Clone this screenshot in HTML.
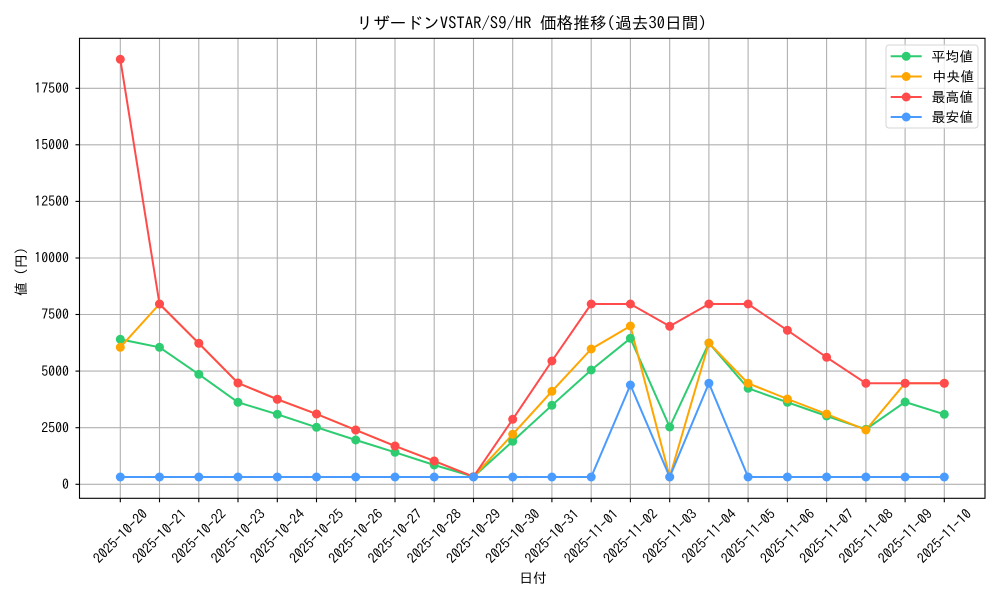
<!DOCTYPE html>
<html><head><meta charset="utf-8"><style>
html,body{margin:0;padding:0;background:#fff;}
svg{display:block;}
text{font-family:"IPAGothic","Liberation Sans","Noto Sans CJK JP",sans-serif;fill:#000;}
</style></head><body>
<svg width="1000" height="600" viewBox="0 0 1000 600" xmlns="http://www.w3.org/2000/svg">
<rect x="0" y="0" width="1000" height="600" fill="#fff"/>
<text x="531.5" y="29" font-size="16.7" text-anchor="middle">リザードンVSTAR/S9/HR 価格推移(過去30日間)</text>
<g stroke="#b0b0b0" stroke-width="1.1">
<line x1="120.3" y1="38.3" x2="120.3" y2="498.3"/><line x1="159.5" y1="38.3" x2="159.5" y2="498.3"/><line x1="198.8" y1="38.3" x2="198.8" y2="498.3"/><line x1="238.0" y1="38.3" x2="238.0" y2="498.3"/><line x1="277.3" y1="38.3" x2="277.3" y2="498.3"/><line x1="316.5" y1="38.3" x2="316.5" y2="498.3"/><line x1="355.7" y1="38.3" x2="355.7" y2="498.3"/><line x1="395.0" y1="38.3" x2="395.0" y2="498.3"/><line x1="434.2" y1="38.3" x2="434.2" y2="498.3"/><line x1="473.5" y1="38.3" x2="473.5" y2="498.3"/><line x1="512.7" y1="38.3" x2="512.7" y2="498.3"/><line x1="551.9" y1="38.3" x2="551.9" y2="498.3"/><line x1="591.2" y1="38.3" x2="591.2" y2="498.3"/><line x1="630.4" y1="38.3" x2="630.4" y2="498.3"/><line x1="669.7" y1="38.3" x2="669.7" y2="498.3"/><line x1="708.9" y1="38.3" x2="708.9" y2="498.3"/><line x1="748.1" y1="38.3" x2="748.1" y2="498.3"/><line x1="787.4" y1="38.3" x2="787.4" y2="498.3"/><line x1="826.6" y1="38.3" x2="826.6" y2="498.3"/><line x1="865.9" y1="38.3" x2="865.9" y2="498.3"/><line x1="905.1" y1="38.3" x2="905.1" y2="498.3"/><line x1="944.3" y1="38.3" x2="944.3" y2="498.3"/>
<line x1="79.5" y1="484.3" x2="985" y2="484.3"/><line x1="79.5" y1="427.7" x2="985" y2="427.7"/><line x1="79.5" y1="371.1" x2="985" y2="371.1"/><line x1="79.5" y1="314.5" x2="985" y2="314.5"/><line x1="79.5" y1="258.0" x2="985" y2="258.0"/><line x1="79.5" y1="201.4" x2="985" y2="201.4"/><line x1="79.5" y1="144.8" x2="985" y2="144.8"/><line x1="79.5" y1="88.3" x2="985" y2="88.3"/>
</g>
<!-- series -->
<g stroke-width="2" fill="none" stroke-linejoin="round">
<polyline stroke="#2ecc71" points="120.3,339.3 159.5,347.3 198.8,374.3 238.0,402.3 277.3,414.3 316.5,427.3 355.7,440 395.0,452.3 434.2,465 473.5,476.7 512.7,441.3 551.9,405.3 591.2,370 630.4,338.3 669.7,427 708.9,343 748.1,388.3 787.4,402.3 826.6,416 865.9,429.3 905.1,402 944.3,414.3"/>
<polyline stroke="#ffa500" points="120.3,347.3 159.5,304 198.8,343.3 238.0,383 277.3,399.3 316.5,414 355.7,430 395.0,446 434.2,461 473.5,476.7 512.7,434.3 551.9,391.3 591.2,349 630.4,326 669.7,477 708.9,343 748.1,383.3 787.4,399 826.6,414 865.9,430 905.1,383.3 944.3,383.3"/>
<polyline stroke="#ff4b4b" points="120.3,59.3 159.5,304 198.8,343.3 238.0,383 277.3,399.3 316.5,414 355.7,430 395.0,446 434.2,461 473.5,476.7 512.7,419.3 551.9,361 591.2,304 630.4,304 669.7,326.3 708.9,304 748.1,304 787.4,330.3 826.6,357.3 865.9,383.3 905.1,383.3 944.3,383.3"/>
<polyline stroke="#4a9bff" points="120.3,477 159.5,477 198.8,477 238.0,477 277.3,477 316.5,477 355.7,477 395.0,477 434.2,477 473.5,477 512.7,477 551.9,477 591.2,477 630.4,385 669.7,477 708.9,383.3 748.1,477 787.4,477 826.6,477 865.9,477 905.1,477 944.3,477"/>
</g>
<g fill="#2ecc71">
<circle cx="120.3" cy="339.3" r="4.5"/><circle cx="159.5" cy="347.3" r="4.5"/><circle cx="198.8" cy="374.3" r="4.5"/><circle cx="238.0" cy="402.3" r="4.5"/><circle cx="277.3" cy="414.3" r="4.5"/><circle cx="316.5" cy="427.3" r="4.5"/><circle cx="355.7" cy="440" r="4.5"/><circle cx="395.0" cy="452.3" r="4.5"/><circle cx="434.2" cy="465" r="4.5"/><circle cx="473.5" cy="476.7" r="4.5"/><circle cx="512.7" cy="441.3" r="4.5"/><circle cx="551.9" cy="405.3" r="4.5"/><circle cx="591.2" cy="370" r="4.5"/><circle cx="630.4" cy="338.3" r="4.5"/><circle cx="669.7" cy="427" r="4.5"/><circle cx="708.9" cy="343" r="4.5"/><circle cx="748.1" cy="388.3" r="4.5"/><circle cx="787.4" cy="402.3" r="4.5"/><circle cx="826.6" cy="416" r="4.5"/><circle cx="865.9" cy="429.3" r="4.5"/><circle cx="905.1" cy="402" r="4.5"/><circle cx="944.3" cy="414.3" r="4.5"/>
</g>
<g fill="#ffa500">
<circle cx="120.3" cy="347.3" r="4.5"/><circle cx="159.5" cy="304" r="4.5"/><circle cx="198.8" cy="343.3" r="4.5"/><circle cx="238.0" cy="383" r="4.5"/><circle cx="277.3" cy="399.3" r="4.5"/><circle cx="316.5" cy="414" r="4.5"/><circle cx="355.7" cy="430" r="4.5"/><circle cx="395.0" cy="446" r="4.5"/><circle cx="434.2" cy="461" r="4.5"/><circle cx="473.5" cy="476.7" r="4.5"/><circle cx="512.7" cy="434.3" r="4.5"/><circle cx="551.9" cy="391.3" r="4.5"/><circle cx="591.2" cy="349" r="4.5"/><circle cx="630.4" cy="326" r="4.5"/><circle cx="669.7" cy="477" r="4.5"/><circle cx="708.9" cy="343" r="4.5"/><circle cx="748.1" cy="383.3" r="4.5"/><circle cx="787.4" cy="399" r="4.5"/><circle cx="826.6" cy="414" r="4.5"/><circle cx="865.9" cy="430" r="4.5"/><circle cx="905.1" cy="383.3" r="4.5"/><circle cx="944.3" cy="383.3" r="4.5"/>
</g>
<g fill="#ff4b4b">
<circle cx="120.3" cy="59.3" r="4.5"/><circle cx="159.5" cy="304" r="4.5"/><circle cx="198.8" cy="343.3" r="4.5"/><circle cx="238.0" cy="383" r="4.5"/><circle cx="277.3" cy="399.3" r="4.5"/><circle cx="316.5" cy="414" r="4.5"/><circle cx="355.7" cy="430" r="4.5"/><circle cx="395.0" cy="446" r="4.5"/><circle cx="434.2" cy="461" r="4.5"/><circle cx="473.5" cy="476.7" r="4.5"/><circle cx="512.7" cy="419.3" r="4.5"/><circle cx="551.9" cy="361" r="4.5"/><circle cx="591.2" cy="304" r="4.5"/><circle cx="630.4" cy="304" r="4.5"/><circle cx="669.7" cy="326.3" r="4.5"/><circle cx="708.9" cy="304" r="4.5"/><circle cx="748.1" cy="304" r="4.5"/><circle cx="787.4" cy="330.3" r="4.5"/><circle cx="826.6" cy="357.3" r="4.5"/><circle cx="865.9" cy="383.3" r="4.5"/><circle cx="905.1" cy="383.3" r="4.5"/><circle cx="944.3" cy="383.3" r="4.5"/>
</g>
<g fill="#4a9bff">
<circle cx="120.3" cy="477" r="4.5"/><circle cx="159.5" cy="477" r="4.5"/><circle cx="198.8" cy="477" r="4.5"/><circle cx="238.0" cy="477" r="4.5"/><circle cx="277.3" cy="477" r="4.5"/><circle cx="316.5" cy="477" r="4.5"/><circle cx="355.7" cy="477" r="4.5"/><circle cx="395.0" cy="477" r="4.5"/><circle cx="434.2" cy="477" r="4.5"/><circle cx="473.5" cy="477" r="4.5"/><circle cx="512.7" cy="477" r="4.5"/><circle cx="551.9" cy="477" r="4.5"/><circle cx="591.2" cy="477" r="4.5"/><circle cx="630.4" cy="385" r="4.5"/><circle cx="669.7" cy="477" r="4.5"/><circle cx="708.9" cy="383.3" r="4.5"/><circle cx="748.1" cy="477" r="4.5"/><circle cx="787.4" cy="477" r="4.5"/><circle cx="826.6" cy="477" r="4.5"/><circle cx="865.9" cy="477" r="4.5"/><circle cx="905.1" cy="477" r="4.5"/><circle cx="944.3" cy="477" r="4.5"/>
</g>
<!-- axes frame -->
<rect x="79.5" y="38.3" width="905.5" height="460" fill="none" stroke="#000" stroke-width="1.1"/>
<!-- ticks -->
<g stroke="#000" stroke-width="1.1">
<line x1="75.5" y1="484.3" x2="79.5" y2="484.3"/><line x1="75.5" y1="427.7" x2="79.5" y2="427.7"/><line x1="75.5" y1="371.1" x2="79.5" y2="371.1"/><line x1="75.5" y1="314.5" x2="79.5" y2="314.5"/><line x1="75.5" y1="258.0" x2="79.5" y2="258.0"/><line x1="75.5" y1="201.4" x2="79.5" y2="201.4"/><line x1="75.5" y1="144.8" x2="79.5" y2="144.8"/><line x1="75.5" y1="88.3" x2="79.5" y2="88.3"/>
<line x1="120.3" y1="498.3" x2="120.3" y2="502.3"/><line x1="159.5" y1="498.3" x2="159.5" y2="502.3"/><line x1="198.8" y1="498.3" x2="198.8" y2="502.3"/><line x1="238.0" y1="498.3" x2="238.0" y2="502.3"/><line x1="277.3" y1="498.3" x2="277.3" y2="502.3"/><line x1="316.5" y1="498.3" x2="316.5" y2="502.3"/><line x1="355.7" y1="498.3" x2="355.7" y2="502.3"/><line x1="395.0" y1="498.3" x2="395.0" y2="502.3"/><line x1="434.2" y1="498.3" x2="434.2" y2="502.3"/><line x1="473.5" y1="498.3" x2="473.5" y2="502.3"/><line x1="512.7" y1="498.3" x2="512.7" y2="502.3"/><line x1="551.9" y1="498.3" x2="551.9" y2="502.3"/><line x1="591.2" y1="498.3" x2="591.2" y2="502.3"/><line x1="630.4" y1="498.3" x2="630.4" y2="502.3"/><line x1="669.7" y1="498.3" x2="669.7" y2="502.3"/><line x1="708.9" y1="498.3" x2="708.9" y2="502.3"/><line x1="748.1" y1="498.3" x2="748.1" y2="502.3"/><line x1="787.4" y1="498.3" x2="787.4" y2="502.3"/><line x1="826.6" y1="498.3" x2="826.6" y2="502.3"/><line x1="865.9" y1="498.3" x2="865.9" y2="502.3"/><line x1="905.1" y1="498.3" x2="905.1" y2="502.3"/><line x1="944.3" y1="498.3" x2="944.3" y2="502.3"/>
</g>
<g font-size="13.9" text-anchor="end">
<text x="69" y="489">0</text><text x="69" y="432.4">2500</text><text x="69" y="375.8">5000</text><text x="69" y="319.2">7500</text><text x="69" y="262.7">10000</text><text x="69" y="206.1">12500</text><text x="69" y="149.5">15000</text><text x="69" y="93">17500</text>
</g>
<g font-size="13.9" text-anchor="middle">
<text transform="translate(120.3,536) rotate(-45)" y="5">2025-10-20</text>
<text transform="translate(159.5,536) rotate(-45)" y="5">2025-10-21</text>
<text transform="translate(198.8,536) rotate(-45)" y="5">2025-10-22</text>
<text transform="translate(238.0,536) rotate(-45)" y="5">2025-10-23</text>
<text transform="translate(277.3,536) rotate(-45)" y="5">2025-10-24</text>
<text transform="translate(316.5,536) rotate(-45)" y="5">2025-10-25</text>
<text transform="translate(355.7,536) rotate(-45)" y="5">2025-10-26</text>
<text transform="translate(395.0,536) rotate(-45)" y="5">2025-10-27</text>
<text transform="translate(434.2,536) rotate(-45)" y="5">2025-10-28</text>
<text transform="translate(473.5,536) rotate(-45)" y="5">2025-10-29</text>
<text transform="translate(512.7,536) rotate(-45)" y="5">2025-10-30</text>
<text transform="translate(551.9,536) rotate(-45)" y="5">2025-10-31</text>
<text transform="translate(591.2,536) rotate(-45)" y="5">2025-11-01</text>
<text transform="translate(630.4,536) rotate(-45)" y="5">2025-11-02</text>
<text transform="translate(669.7,536) rotate(-45)" y="5">2025-11-03</text>
<text transform="translate(708.9,536) rotate(-45)" y="5">2025-11-04</text>
<text transform="translate(748.1,536) rotate(-45)" y="5">2025-11-05</text>
<text transform="translate(787.4,536) rotate(-45)" y="5">2025-11-06</text>
<text transform="translate(826.6,536) rotate(-45)" y="5">2025-11-07</text>
<text transform="translate(865.9,536) rotate(-45)" y="5">2025-11-08</text>
<text transform="translate(905.1,536) rotate(-45)" y="5">2025-11-09</text>
<text transform="translate(944.3,536) rotate(-45)" y="5">2025-11-10</text>
</g>
<text x="533" y="583" font-size="13.9" text-anchor="middle">日付</text>
<text transform="translate(26,268.3) rotate(-90)" font-size="13.9" text-anchor="middle">値（円）</text>
<!-- legend -->
<rect x="886" y="45" width="92" height="83" rx="3" ry="3" fill="#fff" fill-opacity="0.8" stroke="#d6d6d6" stroke-width="1"/>
<g stroke-width="2">
<line x1="890.7" y1="56.3" x2="921.7" y2="56.3" stroke="#2ecc71"/>
<line x1="890.7" y1="76.5" x2="921.7" y2="76.5" stroke="#ffa500"/>
<line x1="890.7" y1="97" x2="921.7" y2="97" stroke="#ff4b4b"/>
<line x1="890.7" y1="117" x2="921.7" y2="117" stroke="#4a9bff"/>
</g>
<circle cx="906.2" cy="56.3" r="4.5" fill="#2ecc71"/>
<circle cx="906.2" cy="76.5" r="4.5" fill="#ffa500"/>
<circle cx="906.2" cy="97" r="4.5" fill="#ff4b4b"/>
<circle cx="906.2" cy="117" r="4.5" fill="#4a9bff"/>
<g font-size="13.9">
<text x="931.5" y="61.3">平均値</text>
<text x="932.5" y="81.5">中央値</text>
<text x="931.5" y="102">最高値</text>
<text x="931.5" y="122">最安値</text>
</g>
</svg>
</body></html>
